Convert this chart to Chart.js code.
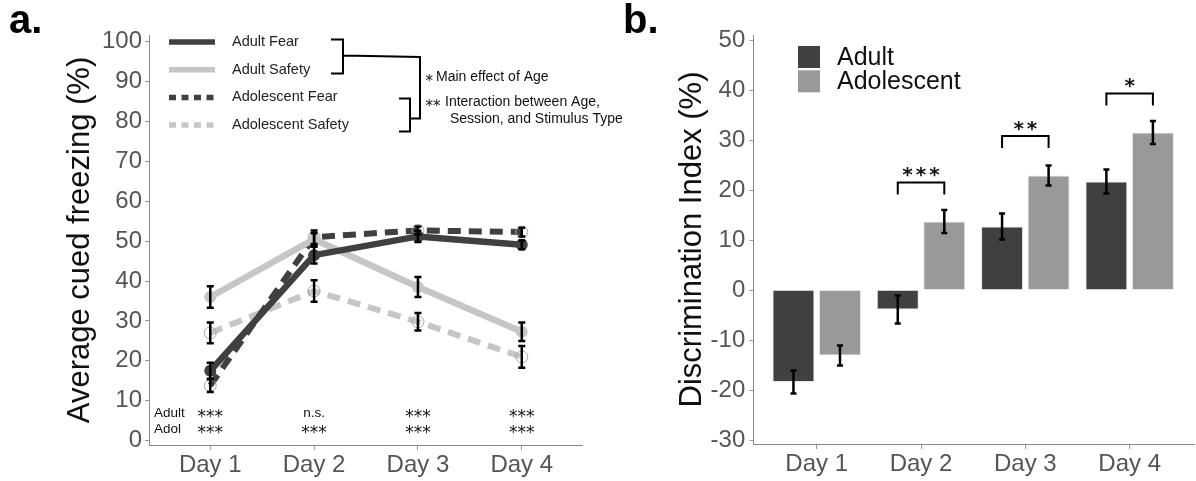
<!DOCTYPE html>
<html>
<head>
<meta charset="utf-8">
<script src="https://cdn.jsdelivr.net/npm/chart.js@4.4.1/dist/chart.umd.min.js"></script>
<style>
	body { margin: 0; background: #fff; width: 1196px; height: 481px; overflow: hidden; position: relative; }
	.panel { position: absolute; top: 0; height: 481px; }
</style>
</head>
<body>
<div class="panel" style="left:0;width:760px"><canvas id="freezeChart" width="760" height="481"></canvas></div>
<div class="panel" style="left:598px;width:598px"><canvas id="discChart" width="598" height="481"></canvas></div>
<script>
// Values
const days = ['Day 1', 'Day 2', 'Day 3', 'Day 4'];

// Panel a: cued freezing (%)
const freezeTicks     = [0, 10, 20, 30, 40, 50, 60, 70, 80, 90, 100];
const adultFear       = [17.5, 46.5, 51.2, 49.1];
const adultFearErr    = [2.0, 2.1, 1.4, 1.1];
const adultSafety     = [36.0, 50.5, 38.5, 27.3];
const adultSafetyErr  = [2.7, 1.5, 2.5, 2.3];
const adolFear        = [13.8, 51.0, 52.7, 52.3];
const adolFearErr     = [1.6, 1.7, 1.0, 1.1];
const adolSafety      = [27.0, 37.5, 29.8, 21.0];
const adolSafetyErr   = [2.6, 2.7, 2.2, 2.7];
const sigAdult        = ['***', 'n.s.', '***', '***'];
const sigAdol         = ['***', '***', '***', '***'];

// Panel b: discrimination index (%)
const discTicks       = [-30, -20, -10, 0, 10, 20, 30, 40, 50];
const discAdult       = [-18.4, -3.9, 12.7, 21.7];
const discAdultErr    = [2.3, 2.8, 2.6, 2.4];
const discAdol        = [-13.1, 13.7, 22.9, 31.5];
const discAdolErr     = [2.0, 2.3, 2.0, 2.3];
const pairSig         = ['', '***', '**', '*'];
const pairBracket     = [null, 21.5, 30.8, 39.3];

const DARK  = '#404040';
const LIGHT = '#c6c6c6';
const BAR_LIGHT = '#999999';
const FONT  = "'Liberation Sans', Arial, sans-serif";
const STAR_FONT = "'DejaVu Sans', sans-serif";

Chart.defaults.font.family = FONT;

function points(arr) {
	return arr.map((v, i) => ({ x: i + 1, y: v }));
}

// Vertical error bars with caps, drawn on top of the datasets
function errorBars(cap, width) {
	return {
		id: 'errorBars',
		afterDatasetsDraw(chart) {
			let ctx = chart.ctx;
			let y = chart.scales.y;
			ctx.save();
			ctx.strokeStyle = '#000';
			ctx.lineWidth = width;
			chart.data.datasets.forEach((ds, di) => {
				if (!ds.errors) return;
				chart.getDatasetMeta(di).data.forEach((el, i) => {
					let v = ds.data[i].y, e = ds.errors[i];
					let top = y.getPixelForValue(v + e), bot = y.getPixelForValue(v - e);
					ctx.beginPath();
					ctx.moveTo(el.x, top); ctx.lineTo(el.x, bot);
					ctx.moveTo(el.x - cap, top); ctx.lineTo(el.x + cap, top);
					ctx.moveTo(el.x - cap, bot); ctx.lineTo(el.x + cap, bot);
					ctx.stroke();
				});
			});
			ctx.restore();
		}
	};
}

function panelLetter(letter, x) {
	return {
		id: 'panelLetter',
		afterDraw(chart) {
			let ctx = chart.ctx;
			ctx.save();
			ctx.fillStyle = '#000';
			ctx.font = 'bold 40px ' + FONT;
			ctx.textBaseline = 'alphabetic';
			ctx.fillText(letter, x, 33);
			ctx.restore();
		}
	};
}

function lineSet(label, values, errors, color, dashed, adult) {
	return {
		label: label,
		data: points(values),
		errors: errors,
		borderColor: color,
		borderWidth: dashed ? 6 : 6.5,
		borderDash: dashed ? [13, 8] : [],
		borderCapStyle: 'butt',
		tension: 0,
		fill: false,
		pointRadius: 6,
		pointBackgroundColor: adult ? color : 'rgba(255,255,255,0)',
		pointBorderColor: adult ? color : '#a8a8a8',
		pointBorderWidth: adult ? 0 : 1,
	};
}

// Legend, brackets and significance labels for panel a
const freezeNotes = {
	id: 'freezeNotes',
	afterDraw(chart) {
		let ctx = chart.ctx;
		let xs = chart.scales.x, ys = chart.scales.y;
		ctx.save();

		// legend
		ctx.font = '14.5px ' + FONT;
		ctx.textBaseline = 'middle';
		chart.data.datasets.forEach((ds, i) => {
			let ry = 42 + i * 27.7;
			ctx.strokeStyle = ds.borderColor;
			ctx.lineWidth = 5.5;
			ctx.setLineDash(ds.borderDash.length ? [7, 5.5] : []);
			ctx.beginPath();
			ctx.moveTo(169, ry); ctx.lineTo(215, ry);
			ctx.stroke();
			ctx.fillStyle = '#222';
			ctx.fillText(ds.label, 232, ry);
		});
		ctx.setLineDash([]);

		// brackets joining the legend groups
		ctx.strokeStyle = '#000';
		ctx.lineWidth = 2;
		ctx.beginPath();
		ctx.moveTo(331, 39.5); ctx.lineTo(343, 39.5); ctx.lineTo(343, 73.5); ctx.lineTo(331, 73.5);
		ctx.moveTo(343, 55.5); ctx.lineTo(420, 57); ctx.lineTo(420, 118.5); ctx.lineTo(410, 118.5);
		ctx.moveTo(399, 98.5); ctx.lineTo(410, 98.5); ctx.lineTo(410, 131.5); ctx.lineTo(399, 131.5);
		ctx.stroke();

		ctx.fillStyle = '#111';
		ctx.font = '14px ' + FONT;
		ctx.fillText('Main effect of Age', 436, 77);
		ctx.fillText('Interaction between Age,', 445, 102);
		ctx.fillText('Session, and Stimulus Type', 450, 119);
		ctx.font = '15px ' + STAR_FONT;
		ctx.textBaseline = 'alphabetic';
		ctx.fillText('*', 425.5, 85.5);
		ctx.fillText('**', 425.5, 110.5);

		// per-day significance
		let yAdult = ys.getPixelForValue(6.9), yAdol = ys.getPixelForValue(2.9);
		ctx.textBaseline = 'alphabetic';
		ctx.font = '13.5px ' + FONT;
		ctx.textAlign = 'left';
		ctx.fillText('Adult', chart.chartArea.left + 5, yAdult + 4.2);
		ctx.fillText('Adol', chart.chartArea.left + 5, yAdol + 4.2);
		ctx.textAlign = 'center';
		days.forEach((d, i) => {
			let x = xs.getPixelForValue(i + 1);
			[[sigAdult[i], yAdult], [sigAdol[i], yAdol]].forEach(([txt, y]) => {
				if (txt.indexOf('*') === 0) {
					ctx.font = '17px ' + STAR_FONT;
					ctx.fillText(txt, x, y + 8.5);
				} else {
					ctx.font = '13.5px ' + FONT;
					ctx.fillText(txt, x, y + 4.2);
				}
			});
		});
		ctx.restore();
	}
};

new Chart(document.getElementById('freezeChart'), {
	type: 'line',
	data: {
		datasets: [
			lineSet('Adult Fear', adultFear, adultFearErr, DARK, false, true),
			lineSet('Adult Safety', adultSafety, adultSafetyErr, LIGHT, false, true),
			lineSet('Adolescent Fear', adolFear, adolFearErr, DARK, true, false),
			lineSet('Adolescent Safety', adolSafety, adolSafetyErr, LIGHT, true, false),
		],
	},
	options: {
		responsive: false,
		animation: false,
		layout: { padding: { left: 0, top: 35, right: 178, bottom: 0 } },
		plugins: { legend: { display: false }, tooltip: { enabled: false } },
		scales: {
			x: {
				type: 'linear',
				min: 0.41,
				max: 4.58,
				afterBuildTicks: s => { s.ticks = days.map((d, i) => ({ value: i + 1 })); },
				afterFit: s => { s.height = 36; },
				ticks: { callback: (v, i) => days[i], color: '#555', font: { size: 24 }, padding: 1, maxRotation: 0 },
				grid: { display: true, drawOnChartArea: false, drawTicks: true, tickLength: 5, color: '#999' },
				border: { display: true, color: '#888', width: 1 },
			},
			y: {
				min: -1.1,
				max: 101.7,
				afterBuildTicks: s => { s.ticks = freezeTicks.map(v => ({ value: v })); },
				afterFit: s => { s.width = 149; },
				ticks: { color: '#555', font: { size: 24 }, padding: 3 },
				grid: { display: true, drawOnChartArea: false, drawTicks: true, tickLength: 4, color: '#999' },
				border: { display: true, color: '#888', width: 1 },
				title: {
					display: true,
					text: 'Average cued freezing (%)',
					color: '#111',
					font: { size: 31 },
					padding: { top: 62, bottom: 0 },
				},
			},
		},
	},
	plugins: [errorBars(3.5, 2.5), freezeNotes, panelLetter('a.', 9)],
});

// Legend, brackets and stars for panel b
const discNotes = {
	id: 'discNotes',
	afterDraw(chart) {
		let ctx = chart.ctx;
		let ys = chart.scales.y;
		ctx.save();

		// legend
		ctx.font = '25px ' + FONT;
		ctx.textBaseline = 'middle';
		chart.data.datasets.forEach((ds, i) => {
			let top = 46 + i * 24.3;
			ctx.fillStyle = ds.backgroundColor;
			ctx.fillRect(200, top, 22, 22);
			ctx.fillStyle = '#111';
			ctx.fillText(ds.label, 239, top + 12);
		});

		// pairwise comparison brackets
		let adultMeta = chart.getDatasetMeta(0), adolMeta = chart.getDatasetMeta(1);
		ctx.strokeStyle = '#000';
		ctx.lineWidth = 2;
		ctx.fillStyle = '#111';
		ctx.font = 'bold 20px ' + STAR_FONT;
		ctx.textAlign = 'center';
		ctx.textBaseline = 'alphabetic';
		ctx.letterSpacing = '3px';
		pairBracket.forEach((lvl, i) => {
			if (lvl === null) return;
			let x1 = adultMeta.data[i].x, x2 = adolMeta.data[i].x;
			let y = ys.getPixelForValue(lvl);
			ctx.beginPath();
			ctx.moveTo(x1, y + 12); ctx.lineTo(x1, y); ctx.lineTo(x2, y); ctx.lineTo(x2, y + 12);
			ctx.stroke();
			ctx.fillText(pairSig[i], (x1 + x2) / 2 + 1.5, y - 1.5);
		});
		ctx.restore();
	}
};

new Chart(document.getElementById('discChart'), {
	type: 'bar',
	data: {
		datasets: [
			{ label: 'Adult', data: points(discAdult), errors: discAdultErr, backgroundColor: DARK, borderColor: '#e6e6e6', borderWidth: 1 },
			{ label: 'Adolescent', data: points(discAdol), errors: discAdolErr, backgroundColor: BAR_LIGHT, borderColor: '#e6e6e6', borderWidth: 1 },
		],
	},
	options: {
		responsive: false,
		animation: false,
		categoryPercentage: 0.892,
		barPercentage: 0.903,
		layout: { padding: { left: 0, top: 35, right: 2, bottom: 0 } },
		plugins: { legend: { display: false }, tooltip: { enabled: false } },
		scales: {
			x: {
				type: 'linear',
				offset: false,
				min: 0.392,
				max: 4.617,
				afterBuildTicks: s => { s.ticks = days.map((d, i) => ({ value: i + 1 })); },
				afterFit: s => { s.height = 37; },
				ticks: { callback: (v, i) => days[i], color: '#555', font: { size: 24 }, padding: 1, maxRotation: 0 },
				grid: { display: true, offset: false, drawOnChartArea: false, drawTicks: true, tickLength: 5, color: '#999' },
				border: { display: true, color: '#888', width: 1 },
			},
			y: {
				min: -30.8,
				max: 51,
				afterBuildTicks: s => { s.ticks = discTicks.map(v => ({ value: v })); },
				afterFit: s => { s.width = 155.3; },
				ticks: { color: '#555', font: { size: 24 }, padding: 4 },
				grid: { display: true, drawOnChartArea: false, drawTicks: true, tickLength: 4, color: '#999' },
				border: { display: true, color: '#888', width: 1 },
				title: {
					display: true,
					text: 'Discrimination Index (%)',
					color: '#111',
					font: { size: 31 },
					padding: { top: 76, bottom: 0 },
				},
			},
		},
	},
	plugins: [errorBars(3, 2.5), discNotes, panelLetter('b.', 25)],
});
</script>
</body>
</html>
